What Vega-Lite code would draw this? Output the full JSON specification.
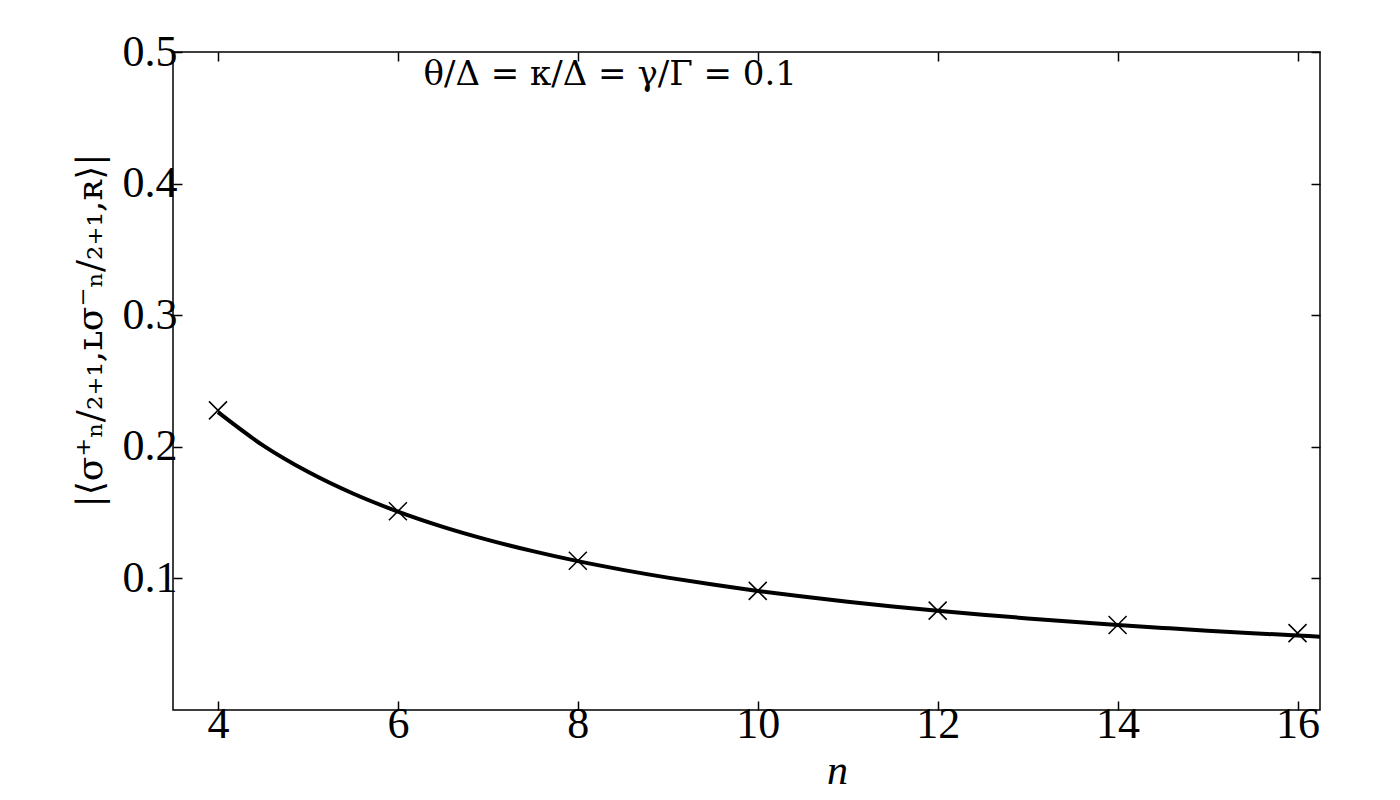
{
  "$schema": "https://vega.github.io/schema/vega-lite/v6.json",
  "width": 1147,
  "height": 658,
  "autosize": {"type": "none"},
  "padding": {"left": 173, "top": 52, "right": 80, "bottom": 90},
  "background": "white",
  "config": {
    "view": {"stroke": "black", "strokeWidth": 1.5},
    "font": "Liberation Serif",
    "axis": {
      "domain": false,
      "grid": false,
      "tickColor": "black",
      "tickWidth": 1.5,
      "tickSize": -9,
      "labelFont": "Liberation Serif",
      "labelFontSize": 44,
      "labelColor": "black",
      "titleFont": "Liberation Serif",
      "titleColor": "black",
      "titleFontWeight": "normal"
    }
  },
  "datasets": {
    "curve": [
      {"n": 4.0, "v": 0.2263},
      {"n": 4.5, "v": 0.2011},
      {"n": 5.0, "v": 0.1810},
      {"n": 5.5, "v": 0.1645},
      {"n": 6.0, "v": 0.1508},
      {"n": 6.5, "v": 0.1392},
      {"n": 7.0, "v": 0.1293},
      {"n": 7.5, "v": 0.1207},
      {"n": 8.0, "v": 0.1131},
      {"n": 8.5, "v": 0.1065},
      {"n": 9.0, "v": 0.1006},
      {"n": 9.5, "v": 0.0953},
      {"n": 10.0, "v": 0.0905},
      {"n": 10.5, "v": 0.0862},
      {"n": 11.0, "v": 0.0823},
      {"n": 11.5, "v": 0.0787},
      {"n": 12.0, "v": 0.0754},
      {"n": 12.5, "v": 0.0724},
      {"n": 13.0, "v": 0.0696},
      {"n": 13.5, "v": 0.0670},
      {"n": 14.0, "v": 0.0646},
      {"n": 14.5, "v": 0.0624},
      {"n": 15.0, "v": 0.0603},
      {"n": 15.5, "v": 0.0584},
      {"n": 16.0, "v": 0.0566},
      {"n": 16.25, "v": 0.0557}
    ],
    "points": [
      {"n": 4, "v": 0.2277},
      {"n": 6, "v": 0.1510},
      {"n": 8, "v": 0.1134},
      {"n": 10, "v": 0.0905},
      {"n": 12, "v": 0.0755},
      {"n": 14, "v": 0.0646},
      {"n": 16, "v": 0.0584}
    ],
    "note": [
      {"n": 8.36, "v": 0.475, "label": "θ/Δ = κ/Δ = γ/Γ = 0.1"}
    ]
  },
  "layer": [
    {
      "data": {"name": "curve"},
      "mark": {"type": "line", "color": "black", "strokeWidth": 4, "interpolate": "monotone", "clip": true},
      "encoding": {
        "x": {
          "field": "n", "type": "quantitative",
          "scale": {"domain": [3.5, 16.25], "nice": false, "zero": false},
          "axis": {
            "orient": "bottom",
            "values": [4, 6, 8, 10, 12, 14, 16],
            "labelPadding": 1,
            "title": "n",
            "titleFontStyle": "italic",
            "titleFontSize": 42,
            "titleX": 664,
            "titleY": 73,
            "titleBaseline": "alphabetic",
            "titleAlign": "center"
          }
        },
        "y": {
          "field": "v", "type": "quantitative",
          "scale": {"domain": [0, 0.5], "nice": false},
          "axis": {
            "orient": "left",
            "values": [0.1, 0.2, 0.3, 0.4, 0.5],
            "format": ".1f",
            "labelPadding": 5,
            "title": "|⟨σ⁺ₙ/₂₊₁,ʟσ⁻ₙ/₂₊₁,ʀ⟩|",
            "titleFont": "DejaVu Serif",
            "titleFontSize": 36,
            "titleX": -83,
            "titleY": 278,
            "titleAngle": -90,
            "titleAlign": "center",
            "titleBaseline": "middle"
          }
        }
      }
    },
    {
      "data": {"name": "points"},
      "mark": {
        "type": "point",
        "shape": "M-1,-1L1,1M-1,1L1,-1",
        "filled": false,
        "stroke": "black",
        "strokeWidth": 1.5,
        "size": 324,
        "opacity": 1
      },
      "encoding": {
        "x": {
          "field": "n", "type": "quantitative",
          "axis": {"orient": "top", "values": [4, 6, 8, 10, 12, 14, 16], "labels": false, "title": null}
        },
        "y": {
          "field": "v", "type": "quantitative",
          "axis": {"orient": "right", "values": [0.1, 0.2, 0.3, 0.4, 0.5], "labels": false, "title": null}
        }
      }
    },
    {
      "data": {"name": "note"},
      "mark": {"type": "text", "font": "DejaVu Serif", "fontSize": 34, "color": "black", "align": "center", "baseline": "alphabetic"},
      "encoding": {
        "x": {"field": "n", "type": "quantitative", "axis": null},
        "y": {"field": "v", "type": "quantitative", "axis": null},
        "text": {"field": "label"}
      }
    }
  ],
  "resolve": {"axis": {"x": "independent", "y": "independent"}}
}
